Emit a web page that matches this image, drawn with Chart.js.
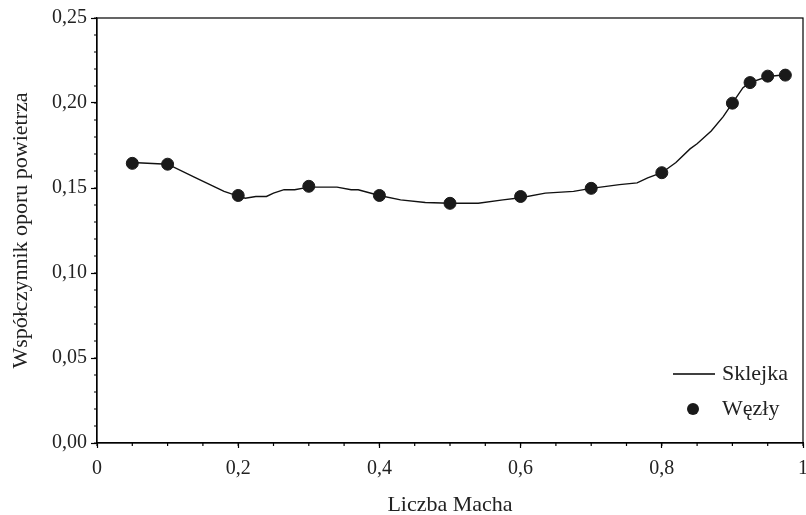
<!DOCTYPE html>
<html>
<head>
<meta charset="utf-8">
<script src="https://cdn.jsdelivr.net/npm/chart.js@4.4.1/dist/chart.umd.min.js"></script>
<style>
  html, body { margin: 0; padding: 0; background: #fff; }
  #wrap { width: 806px; height: 515px; }
</style>
</head>
<body>
<div id="wrap"><canvas id="dragChart"></canvas></div>
<script>
// Spline curve
const splineX = [0.05, 0.10, 0.14, 0.18, 0.20, 0.21, 0.225, 0.24, 0.25, 0.265, 0.28, 0.30, 0.34, 0.36, 0.37,
                 0.40, 0.43, 0.465, 0.50, 0.54, 0.575, 0.60, 0.635, 0.675, 0.70, 0.74, 0.765, 0.78, 0.80,
                 0.82, 0.84, 0.85, 0.87, 0.887, 0.90, 0.915, 0.925, 0.95, 0.975];
const splineY = [0.165, 0.164, 0.156, 0.148, 0.1452, 0.144, 0.145, 0.145, 0.147, 0.149, 0.149, 0.1505, 0.1505, 0.149, 0.149,
                 0.1456, 0.143, 0.1415, 0.141, 0.141, 0.143, 0.1443, 0.147, 0.148, 0.1498, 0.152, 0.153, 0.156, 0.159,
                 0.165, 0.173, 0.176, 0.1835, 0.192, 0.1999, 0.209, 0.212, 0.2156, 0.2166];

// Nodes
const nodeX = [0.05, 0.10, 0.20, 0.30, 0.40, 0.50, 0.60, 0.70, 0.80, 0.90, 0.925, 0.95, 0.975];
const nodeY = [0.1645, 0.164, 0.1456, 0.151, 0.1456, 0.141, 0.145, 0.1498, 0.159, 0.1999, 0.212, 0.2158, 0.2164];

// Axis ticks
const xTicks = [0, 0.2, 0.4, 0.6, 0.8, 1];
const xTickLabels = ['0', '0,2', '0,4', '0,6', '0,8', '1'];
const xMinorStep = 0.05;
const yTicks = [0, 0.05, 0.10, 0.15, 0.20, 0.25];
const yTickLabels = ['0,00', '0,05', '0,10', '0,15', '0,20', '0,25'];
const yMinorStep = 0.01;

const serif = "'Liberation Serif', 'DejaVu Serif', serif";

// Minor ticks, box frame and legend inside the plot
const decorPlugin = {
    id: 'decor',
    afterDraw(chart) {
        const ctx = chart.ctx;
        const area = chart.chartArea;
        const xs = chart.scales.x;
        const ys = chart.scales.y;
        ctx.save();
        ctx.strokeStyle = '#000';
        ctx.lineWidth = 1.2;

        // minor ticks
        ctx.beginPath();
        for (let v = 0; v <= 1.0001; v += xMinorStep) {
            const px = xs.getPixelForValue(v);
            ctx.moveTo(px, area.bottom);
            ctx.lineTo(px, area.bottom + 3);
        }
        for (let v = 0; v <= 0.2501; v += yMinorStep) {
            const py = ys.getPixelForValue(v);
            ctx.moveTo(area.left, py);
            ctx.lineTo(area.left - 3, py);
        }
        ctx.stroke();

        // frame
        ctx.strokeRect(area.left, area.top, area.right - area.left, area.bottom - area.top);

        // legend
        const ds = chart.data.datasets;
        const textX = area.right - 81;
        const y1 = area.bottom - 69;
        const y2 = area.bottom - 34;
        ctx.lineWidth = 1.4;
        ctx.beginPath();
        ctx.moveTo(area.right - 130, y1);
        ctx.lineTo(area.right - 88, y1);
        ctx.stroke();
        ctx.fillStyle = '#1a1a1a';
        ctx.beginPath();
        ctx.arc(area.right - 110, y2, 6, 0, Math.PI * 2);
        ctx.fill();
        ctx.fillStyle = '#222';
        ctx.font = '22px ' + serif;
        ctx.textBaseline = 'middle';
        ctx.textAlign = 'left';
        ctx.fillText(ds[0].label, textX, y1);
        ctx.fillText(ds[1].label, textX, y2);
        ctx.restore();
    }
};

new Chart(document.getElementById('dragChart'), {
    type: 'scatter',
    data: {
        datasets: [
            {
                label: 'Sklejka',
                data: splineX.map((x, i) => ({ x: x, y: splineY[i] })),
                showLine: true,
                borderColor: '#111',
                borderWidth: 1.4,
                pointRadius: 0,
                tension: 0,
                order: 2
            },
            {
                label: 'Węzły',
                data: nodeX.map((x, i) => ({ x: x, y: nodeY[i] })),
                showLine: false,
                backgroundColor: '#1a1a1a',
                borderColor: '#1a1a1a',
                pointRadius: 6,
                pointHoverRadius: 6,
                order: 1
            }
        ]
    },
    options: {
        responsive: true,
        maintainAspectRatio: false,
        animation: false,
        layout: { autoPadding: false, padding: { top: 18, right: 3, left: 0, bottom: 0 } },
        plugins: {
            legend: { display: false },
            tooltip: { enabled: false }
        },
        scales: {
            x: {
                type: 'linear',
                min: 0,
                max: 1,
                afterBuildTicks: scale => { scale.ticks = xTicks.map(v => ({ value: v })); },
                afterFit: scale => { scale.height = 72; scale.paddingRight = 0; scale.paddingLeft = 0; },
                ticks: {
                    color: '#222',
                    padding: 9,
                    maxRotation: 0,
                    font: { family: serif, size: 20 },
                    callback: (v, i) => xTickLabels[i]
                },
                grid: { drawOnChartArea: false, drawTicks: true, tickLength: 5, color: '#000', tickWidth: 1.2 },
                border: { color: '#000', width: 1.2 },
                title: {
                    display: true,
                    text: 'Liczba Macha',
                    color: '#222',
                    font: { family: serif, size: 22 },
                    padding: { top: 14, bottom: -3 }
                }
            },
            y: {
                type: 'linear',
                min: 0,
                max: 0.25,
                afterBuildTicks: scale => { scale.ticks = yTicks.map(v => ({ value: v })); },
                afterFit: scale => { scale.width = 97; },
                ticks: {
                    color: '#222',
                    padding: 4,
                    font: { family: serif, size: 20 },
                    callback: (v, i) => yTickLabels[i]
                },
                grid: { drawOnChartArea: false, drawTicks: true, tickLength: 6, color: '#000', tickWidth: 1.2 },
                border: { color: '#000', width: 1.2 },
                title: {
                    display: true,
                    text: 'Współczynnik oporu powietrza',
                    color: '#222',
                    font: { family: serif, size: 22 },
                    padding: { top: 8, bottom: 0 }
                }
            }
        }
    },
    plugins: [decorPlugin]
});
</script>
</body>
</html>
